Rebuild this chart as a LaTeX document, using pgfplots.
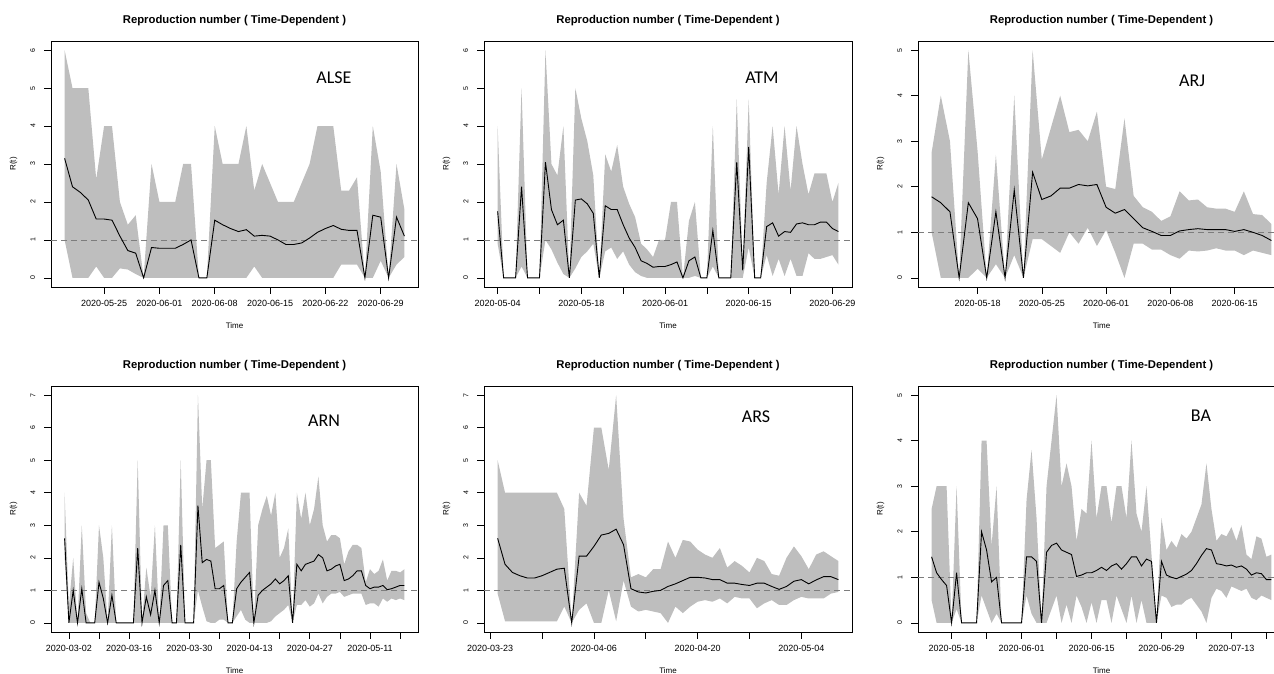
\documentclass[border=0pt]{standalone}
\usepackage{pgfplots}
\pgfplotsset{compat=1.18}
\usepackage{pgfplotstable}
\usepgfplotslibrary{fillbetween}
\usepackage{fontspec}
\setmainfont{Liberation Sans}
\newfontfamily\calfont{Carlito}
\definecolor{band}{RGB}{190,190,190}
\definecolor{refl}{RGB}{125,125,125}

% ALSE: day 0 = 2020-05-25
\pgfplotstableread{
d lo m hi
-5 1.0 3.15 6.0
-4 0 2.4 5.0
-3 0 2.25 5.0
-2 0 2.05 5.0
-1 0.3 1.55 2.6
0 0 1.55 4.0
1 0 1.52 4.0
2 0.25 1.1 2.0
3 0.22 0.72 1.4
4 0.1 0.65 1.65
5 0 0 0
6 0 0.8 3.0
7 0 0.78 2.0
8 0 0.78 2.0
9 0 0.78 2.0
10 0 0.88 3.0
11 0 1.0 3.0
12 0 0 0
13 0 0 0
14 0 1.52 4.0
15 0 1.4 3.0
16 0 1.3 3.0
17 0 1.22 3.0
18 0 1.27 4.0
19 0.3 1.1 2.3
20 0 1.12 3.0
21 0 1.1 2.5
22 0 1.0 2.0
23 0 0.88 2.0
24 0 0.88 2.0
25 0 0.92 2.5
26 0 1.05 3.0
27 0 1.2 4.0
28 0 1.3 4.0
29 0 1.38 4.0
30 0.35 1.28 2.3
31 0.35 1.25 2.3
32 0.35 1.25 2.65
33 0 0 0
34 0 1.65 4.0
35 0.45 1.6 2.8
36 0 0 0
37 0.35 1.6 3.0
38 0.55 1.1 1.8
}\tA

% ATM: day 0 = 2020-05-04
\pgfplotstableread{
d lo m hi
0 0.9 1.75 4.0
1 0 0 0
2 0 0 0
3 0 0 0
4 0.3 2.4 5.0
5 0 0 0
6 0 0 0
7 0 0 0
8 1.0 3.05 6.0
9 0.75 1.8 3.0
10 0.4 1.4 2.7
11 0.1 1.52 4.0
12 0 0 0
13 0.25 2.05 5.0
14 0.55 2.08 4.2
15 0.7 1.95 3.6
16 0.9 1.7 2.7
17 0 0 0
18 0.7 1.9 3.25
19 0.8 1.8 2.8
20 0.5 1.8 3.5
21 0.7 1.4 2.4
22 0.35 1.05 1.95
23 0.15 0.8 1.6
24 0.05 0.45 0.9
25 0 0.38 0.75
26 0 0.28 0.55
27 0 0.3 1.0
28 0 0.3 1.0
29 0 0.35 2.0
30 0 0.42 2.0
31 0 0 0
32 0 0.45 1.5
33 0.05 0.55 2.0
34 0 0 0
35 0 0 0
36 0.3 1.25 4.0
37 0 0 0
38 0 0 0
39 0 0 0
40 0 3.05 4.7
41 0 0.2 0.3
42 0.8 3.45 4.7
43 0 0 0
44 0 0 0
45 0.6 1.35 2.5
46 0.05 1.45 4.0
47 0.5 1.1 2.2
48 0.05 1.22 4.0
49 0.5 1.2 2.3
50 0.05 1.42 4.0
51 0.05 1.45 3.0
52 0.65 1.4 2.2
53 0.5 1.4 2.75
54 0.5 1.47 2.75
55 0.55 1.47 2.75
56 0.6 1.3 2.0
57 0.35 1.22 2.5
}\tB

% ARJ: day 0 = 2020-05-18
\pgfplotstableread{
d lo m hi
-5 1.0 1.78 2.75
-4 0 1.65 4.0
-3 0 1.45 3.0
-2 0 0 0
-1 0 1.65 5.0
0 0.2 1.3 2.8
1 0 0 0
2 0.3 1.45 2.7
3 0 0 0
4 0.5 1.93 4.0
5 0 0 0
6 0.85 2.32 5.0
7 0.85 1.72 2.6
8 0.7 1.8 3.3
9 0.55 1.97 4.0
10 1.0 1.97 3.2
11 0.75 2.05 3.25
12 1.1 2.02 3.0
13 0.7 2.05 3.65
14 1.05 1.55 2.0
15 0.55 1.42 1.95
16 0 1.5 3.5
17 0.75 1.3 1.8
18 0.75 1.1 1.55
19 0.62 1.02 1.45
20 0.62 0.93 1.25
21 0.5 0.93 1.35
22 0.42 1.03 1.9
23 0.6 1.06 1.7
24 0.58 1.08 1.72
25 0.6 1.06 1.55
26 0.65 1.06 1.52
27 0.6 1.06 1.52
28 0.6 1.02 1.45
29 0.5 1.06 1.9
30 0.6 1.0 1.4
31 0.55 0.93 1.38
32 0.5 0.82 1.18
}\tC

% ARN: day 0 = 2020-03-02
\pgfplotstableread{
d lo m hi
-1 2.0 2.6 4.0
0 0 0 0.5
1 0 1.0 2.0
2 0 0 0
3 0 1.05 3.0
4 0 0 0.3
5 0 0 0
6 0 0 0
7 0 1.25 3.0
8 0 0.75 2.0
9 0 0 0
10 0 0.85 3.0
11 0 0 0
12 0 0 0
13 0 0 0
14 0 0 0
15 0 0 0
16 0 2.3 5.0
17 0 0 0
18 0 0.8 1.7
19 0 0.25 0.8
20 0 1.0 3.0
21 0 0 0
22 0 1.15 3.0
23 0 1.3 3.0
24 0 0 0
25 0 0 0
26 0 2.4 5.0
27 0 0 0
28 0 0 0
29 0 0 0
30 1.0 3.6 7.0
31 0.5 1.85 3.5
32 0.05 1.95 5.0
33 0 1.9 5.0
34 0 1.05 2.3
35 0.1 1.05 2.4
36 0.1 1.15 2.5
37 0 0 0
38 0 0 0
39 0.2 1.05 2.5
40 0.4 1.25 4.0
41 0.1 1.4 4.0
42 0 1.55 4.0
43 0 0 0
44 0 0.85 3.0
45 0 1.0 3.5
46 0 1.1 3.9
47 0.05 1.2 3.3
48 0.2 1.35 4.0
49 0.3 1.2 2.0
50 0.4 1.3 2.3
51 0.55 1.45 2.9
52 0 0 0
53 0.55 1.8 4.0
54 0.55 1.6 3.2
55 0.7 1.8 4.0
56 0.5 1.85 3.0
57 0.6 1.9 3.5
58 0.9 2.1 4.5
59 0.6 2.0 3.0
60 0.8 1.6 2.5
61 0.9 1.65 2.7
62 0.9 1.75 2.7
63 0.95 1.8 2.6
64 0.8 1.3 1.8
65 0.85 1.35 2.2
66 0.9 1.45 2.4
67 0.9 1.6 2.4
68 0.9 1.6 2.3
69 0.55 1.15 1.25
70 0.6 1.05 1.65
71 0.6 1.1 1.5
72 0.5 1.1 1.6
73 0.75 1.15 1.95
74 0.65 1.02 1.3
75 0.75 1.05 1.6
76 0.7 1.1 1.6
77 0.75 1.15 1.55
78 0.7 1.15 1.65
}\tD

% ARS: day 0 = 2020-03-23
\pgfplotstableread{
d lo m hi
1 0.9 2.6 5.0
2 0.05 1.8 4.0
3 0.05 1.55 4.0
4 0.05 1.45 4.0
5 0.05 1.38 4.0
6 0.05 1.38 4.0
7 0.05 1.45 4.0
8 0.05 1.55 4.0
9 0.05 1.65 4.0
10 0.5 1.68 3.5
11 0 0 0
12 0.4 2.05 4.0
13 0.6 2.05 3.6
14 0.0 2.35 6.0
15 0.0 2.7 6.0
16 1.0 2.75 4.7
17 0.05 2.88 7.0
18 1.3 2.4 3.2
19 0.5 1.05 1.4
20 0.35 0.95 1.5
21 0.4 0.92 1.4
22 0.35 0.97 1.65
23 0.3 1.0 1.65
24 0.0 1.12 2.5
25 0.5 1.2 2.0
26 0.3 1.3 2.55
27 0.5 1.4 2.5
28 0.65 1.4 2.25
29 0.7 1.38 2.1
30 0.65 1.33 2.0
31 0.75 1.33 2.3
32 0.6 1.22 1.7
33 0.8 1.22 1.9
34 0.75 1.18 1.75
35 0.75 1.15 1.55
36 0.45 1.22 2.0
37 0.6 1.22 1.9
38 0.7 1.12 1.5
39 0.55 1.03 1.45
40 0.55 1.12 2.0
41 0.7 1.28 2.35
42 0.8 1.33 2.05
43 0.75 1.2 1.65
44 0.75 1.32 2.1
45 0.75 1.42 2.2
46 0.9 1.42 2.05
47 0.95 1.33 1.9
}\tE

% BA: day 0 = 2020-05-18
\pgfplotstableread{
d lo m hi
-4 0.5 1.45 2.5
-3 0 1.1 3.0
-2 0 0.95 3.0
-1 0 0.82 3.0
0 0 0 0
1 0.3 1.1 3.0
2 0 0 0
3 0 0 0
4 0 0 0
5 0 0 0
6 0.6 2.0 4.0
7 0.3 1.6 4.0
8 0 0.9 1.7
9 0.2 1.0 3.0
10 0 0 0
11 0 0 0
12 0 0 0
13 0 0 0
14 0 0 0
15 0.6 1.45 2.7
16 0.2 1.45 3.8
17 0 1.35 2.3
18 0 0 0
19 0 1.55 3.0
20 0.3 1.7 4.0
21 0.6 1.75 5.0
22 0 1.6 3.0
23 0.4 1.55 3.5
24 0 1.5 3.0
25 0.6 1.02 1.8
26 0.35 1.05 2.5
27 0 1.1 2.4
28 0.45 1.1 4.0
29 0 1.15 2.3
30 0.5 1.22 3.0
31 0.5 1.15 3.0
32 0 1.25 2.2
33 0.6 1.3 3.0
34 0.3 1.18 3.0
35 0 1.3 2.3
36 0.6 1.45 4.0
37 0 1.45 2.4
38 0.5 1.25 2.0
39 0 1.4 3.0
40 0 1.35 1.5
41 0 0 0
42 0.6 1.35 2.3
43 0.55 1.05 1.6
44 0.35 1.0 1.8
45 0.4 0.97 1.65
46 0.4 1.02 1.95
47 0.5 1.07 1.85
48 0.55 1.15 2.0
49 0.4 1.3 2.3
50 0.25 1.48 2.6
51 0 1.63 3.5
52 0.55 1.6 2.5
53 0.75 1.3 1.8
54 0.7 1.28 1.95
55 0.55 1.25 1.9
56 0.8 1.27 2.1
57 0.75 1.22 1.8
58 0.7 1.25 2.15
59 0.75 1.18 1.5
60 0.55 1.05 1.4
61 0.5 1.1 1.9
62 0.6 1.08 1.85
63 0.55 0.95 1.45
64 0.5 0.95 1.5
}\tF

\pgfplotsset{
  rpanel/.style={
    scale only axis, width=367pt, height=246pt,
    anchor=south west, clip=false,
    axis line style={line width=0.9pt, black},
    tick align=outside, tick pos=left,
    major tick length=7pt,
    tick style={line width=0.6pt, black},
    yticklabel style={font=\fontsize{7}{8}\selectfont, xshift=-8.5pt, rotate=90, anchor=south, inner sep=0pt},
    xticklabel style={font=\fontsize{9}{10}\selectfont, anchor=north, inner sep=0pt, yshift=-6.5pt},
    /pgf/number format/assume math mode=true,
  }
}

\newcommand{\rplot}[3]{%
  \addplot[name path=#2, draw=none] table[x=d,y=hi]{#1};
  \addplot[name path=#3, draw=none] table[x=d,y=lo]{#1};
  \addplot[fill=band, draw=none] fill between[of=#2 and #3];
  \draw[refl, dash pattern=on 6pt off 4pt, line width=0.7pt] ({rel axis cs:0,0}|-{axis cs:0,1}) -- ({rel axis cs:1,0}|-{axis cs:0,1});
  \addplot[black, line width=0.9pt] table[x=d,y=m]{#1};
}
\newcommand{\rtext}[3]{%
  \node[font=\fontsize{11.3}{13}\selectfont\bfseries, anchor=center, yshift=20pt] at (rel axis cs:0.5,1) {Reproduction number ( Time-Dependent )};
  \node[font=\fontsize{8}{9}\selectfont, anchor=center, yshift=-38.5pt] at (rel axis cs:0.5,0) {Time};
  \node[font=\fontsize{8}{9}\selectfont, anchor=center, xshift=-37.5pt, rotate=90] at (rel axis cs:0,0.5) {R(t)};
  \node[font=\calfont\fontsize{18}{20}\selectfont, anchor=center] at (rel axis cs:#1,#2) {#3};
}

\begin{document}
\begin{tikzpicture}
% ---- top row ----
\begin{axis}[rpanel, at={(51pt,387pt)},
  xmin=-6.72, xmax=39.72, ymin=-0.24, ymax=6.24,
  ytick={0,1,2,3,4,5,6},
  xtick={0,7,14,21,28,35},
  xticklabels={2020-05-25,2020-06-01,2020-06-08,2020-06-15,2020-06-22,2020-06-29}]
  \rplot{\tA}{UA}{LA}
  \rtext{0.771}{0.85}{ALSE}
\end{axis}

\begin{axis}[rpanel, at={(484pt,387pt)}, width=368pt,
  xmin=-2.28, xmax=59.28, ymin=-0.24, ymax=6.24,
  ytick={0,1,2,3,4,5,6},
  xtick={0,7,14,21,28,35,42,49,56},
  xticklabels={2020-05-04,{},2020-05-18,{},2020-06-01,{},2020-06-15,{},2020-06-29}]
  \rplot{\tB}{UB}{LB}
  \rtext{0.755}{0.85}{ATM}
\end{axis}

\begin{axis}[rpanel, at={(918pt,387pt)},
  xmin=-6.48, xmax=33.48, ymin=-0.2, ymax=5.2,
  ytick={0,1,2,3,4,5},
  xtick={0,7,14,21,28},
  xticklabels={2020-05-18,2020-05-25,2020-06-01,2020-06-08,2020-06-15}]
  \rplot{\tC}{UC}{LC}
  \rtext{0.747}{0.837}{ARJ}
\end{axis}

% ---- bottom row ----
\begin{axis}[rpanel, at={(51pt,42pt)},
  xmin=-4.16, xmax=81.16, ymin=-0.28, ymax=7.28,
  ytick={0,1,2,3,4,5,6,7},
  xtick={0,7,14,21,28,35,42,49,56,63,70,77},
  xticklabels={2020-03-02,{},2020-03-16,{},2020-03-30,{},2020-04-13,{},2020-04-27,{},2020-05-11,{}}]
  \rplot{\tD}{UD}{LD}
  \rtext{0.744}{0.858}{ARN}
\end{axis}

\begin{axis}[rpanel, at={(484pt,42pt)}, width=368pt,
  xmin=-0.84, xmax=48.84, ymin=-0.28, ymax=7.28,
  ytick={0,1,2,3,4,5,6,7},
  xtick={0,7,14,21,28,35,42},
  xticklabels={2020-03-23,{},2020-04-06,{},2020-04-20,{},2020-05-04}]
  \rplot{\tE}{UE}{LE}
  \rtext{0.739}{0.874}{ARS}
\end{axis}

\begin{axis}[rpanel, at={(918pt,42pt)},
  xmin=-6.72, xmax=66.72, ymin=-0.2, ymax=5.2,
  ytick={0,1,2,3,4,5},
  xtick={0,7,14,21,28,35,42,49,56,63},
  xticklabels={2020-05-18,{},2020-06-01,{},2020-06-15,{},2020-06-29,{},2020-07-13,{}}]
  \rplot{\tF}{UF}{LF}
  \rtext{0.771}{0.878}{BA}
\end{axis}

\pgfresetboundingbox
\path[use as bounding box] (0pt,0pt) rectangle (1274pt,674pt);
\end{tikzpicture}
\end{document}
